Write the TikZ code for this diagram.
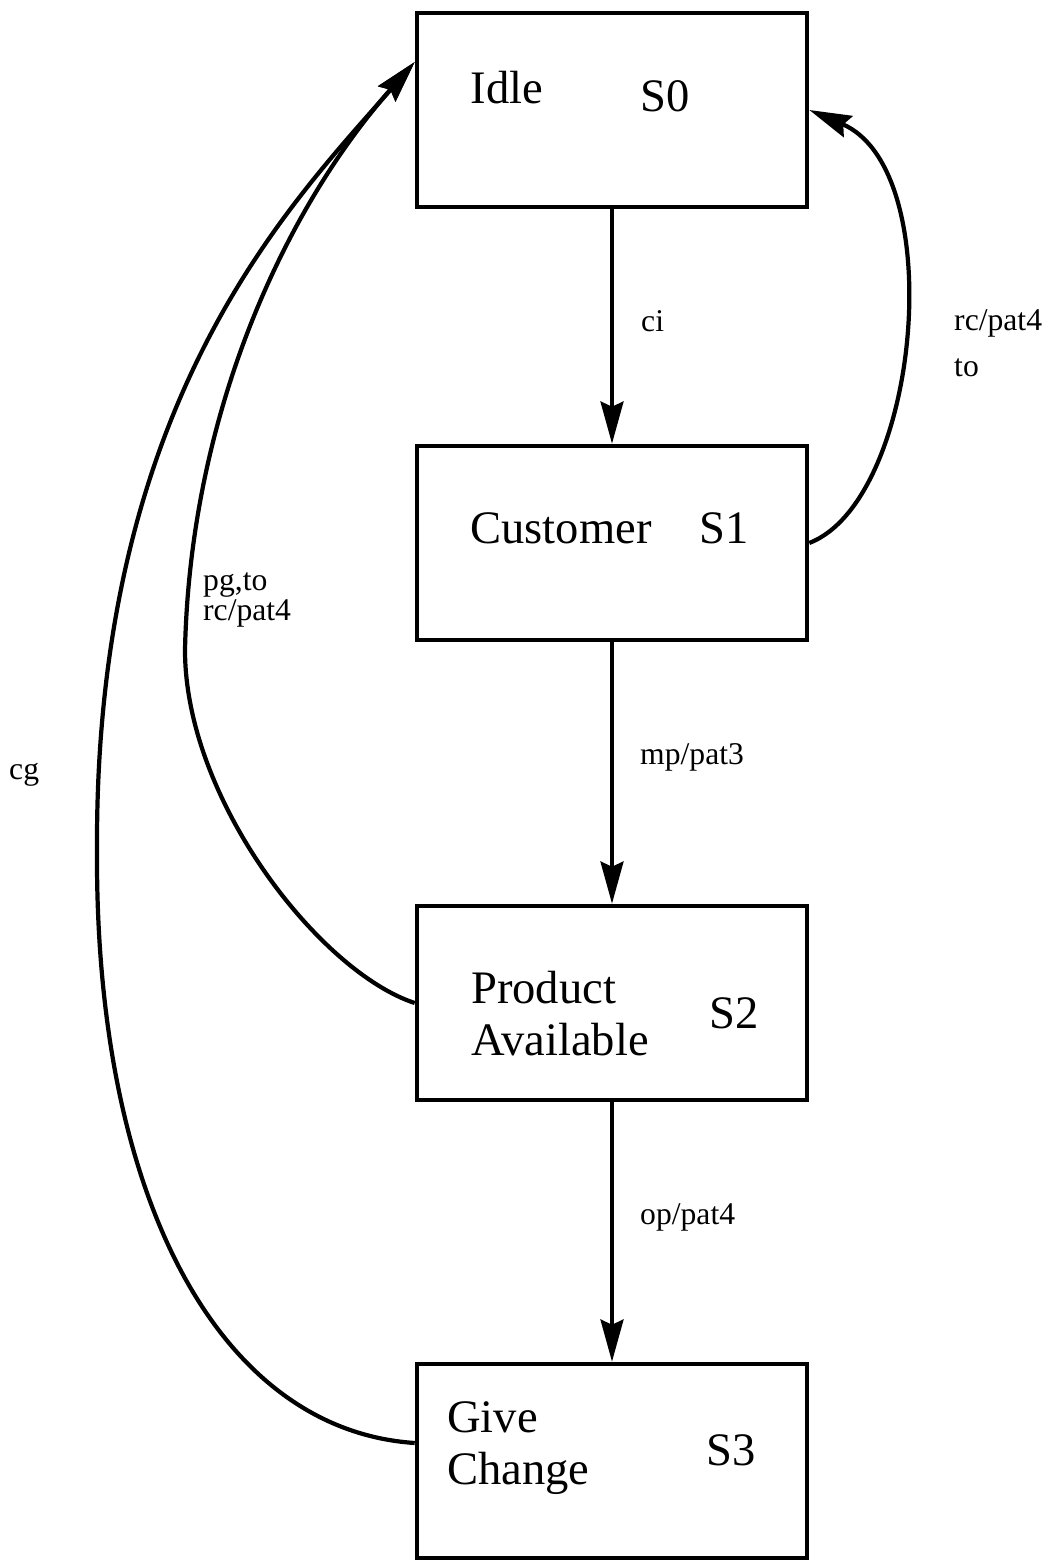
\documentclass[tikz,border=0pt]{standalone}
\usepackage{fontspec}
\setmainfont{Liberation Serif}
\usetikzlibrary{arrows.meta, positioning}

\begin{document}
\begin{tikzpicture}[
    >={Stealth[length=24pt, width=13pt, inset=3pt]},
    state/.style={draw, rectangle, line width=2.6pt, minimum width=7.8cm, minimum height=3.88cm},
    trans/.style={->, line width=2.4pt},
    statetext/.style={font=\fontsize{26.5}{29.6}\selectfont},
    translabel/.style={font=\fontsize{18}{14}\selectfont, anchor=west}
]
\useasboundingbox (0,0) rectangle (21,-31.24);

%-------------------------------------------------
% States
%-------------------------------------------------
\node[state] (s0) at (12.24,-2.2)   {};
\node[state] (s1) at (12.24,-10.86) {};
\node[state] (s2) at (12.24,-20.06) {};
\node[state] (s3) at (12.24,-29.22) {};

\node[statetext] (idle) at (10.14,-1.76) {Idle};
\node[statetext] (s0name) at (13.3,-1.92) {S0};

\node[statetext] (cust) at (11.22,-10.56) {Customer};
\node[statetext] (s1name) at (14.48,-10.56) {S1};

\node[statetext, anchor=west, align=left] (prod) at (9.3,-20.28) {Product\\ Available};
\node[statetext] (s2name) at (14.68,-20.26) {S2};

\node[statetext, anchor=west, align=left] (give) at (8.82,-28.96) {Give\\ Change};
\node[statetext] (s3name) at (14.62,-29.0) {S3};

%-------------------------------------------------
% Forward transitions
%-------------------------------------------------
\draw[trans] (s0.south) -- (s1.north);
\draw[trans] (s1.south) -- (s2.north);
\draw[trans] (s2.south) -- (s3.north);

\node[translabel] (ci)   at (12.7,-6.42)  {ci};
\node[translabel] (mp)   at (12.68,-15.14) {mp/pat3};
\node[translabel] (op)   at (12.68,-24.34) {op/pat4};

%-------------------------------------------------
% Back to idle
%-------------------------------------------------
\draw[trans] (s1.east) .. controls (18.4,-10.0) and (19.0,-3.4) .. (s0.east);

\draw[trans] (s2.west) .. controls (6.4,-19.44) and (3.7,-16.0) .. (3.7,-13.0)
    .. controls (3.8,-8.4) and (5.6,-4.3) .. ([yshift=0.96cm]s0.west);

\draw[trans] ([yshift=0.36cm]s3.west) .. controls (4.4,-28.6) and (1.9,-24.0) .. (1.94,-17.0)
    .. controls (1.9,-8.0) and (5.8,-4.1) .. ([yshift=0.96cm]s0.west);

\node[translabel] (rc)   at (18.96,-6.46)  {rc/pat4};
\node[translabel] (to)   at (18.96,-7.36)  {to};
\node[translabel, align=left] (pg) at (3.94,-12.0) {pg,to\\ rc/pat4};
\node[translabel] (cg)   at (0.06,-15.5)   {cg};

\end{tikzpicture}
\end{document}
